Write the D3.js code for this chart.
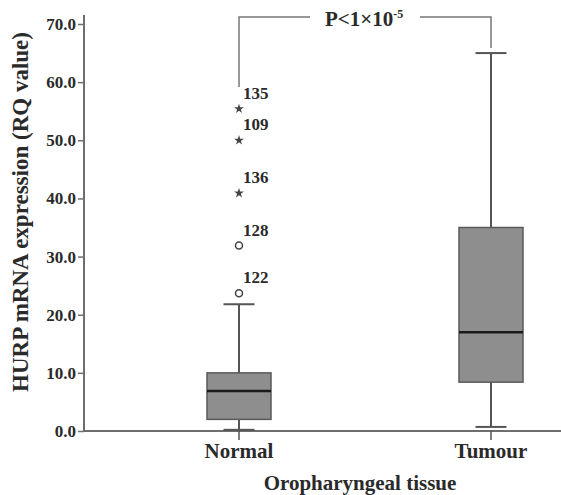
<!DOCTYPE html>
<html lang="en">
<head>
<meta charset="UTF-8">
<title>HURP expression box plot</title>
<style>
  body { margin: 0; background: #fff; }
  text { font-family: "Liberation Serif", "Times New Roman", serif; font-weight: bold; fill: #2a2a2a; }
</style>
</head>
<body>
<div id="chart"></div>
<script src="https://d3js.org/d3.v7.min.js"></script>
<script>
// box plot statistics
var categories = ["Normal", "Tumour"];
var whiskerLow = [0.2, 0.7];
var q1 = [2.0, 8.4];
var median = [6.9, 17.0];
var q3 = [10.0, 35.0];
var whiskerHigh = [21.8, 65.0];

// outliers in the Normal group (circle = outlier, star = extreme)
var outlierIds = ["122", "128", "136", "109", "135"];
var outlierValues = [23.7, 31.9, 40.9, 50.0, 55.4];
var outlierKinds = ["circle", "circle", "star", "star", "star"];

var yTicks = [0, 10, 20, 30, 40, 50, 60, 70];
var pLabel = "P<1×10";
var pExp = "-5";

var width = 561, height = 495;
var svg = d3.select("#chart").append("svg")
    .attr("width", width)
    .attr("height", height);

var y = d3.scaleLinear().domain([0, 70]).range([431, 24]);
var x = d3.scalePoint().domain(categories).range([239, 491]);
var axisX = 84;
var boxW = 64, capW = 31;

// y axis
var yAxis = svg.append("g")
    .attr("transform", "translate(" + axisX + ",0)")
    .call(d3.axisLeft(y).tickValues(yTicks).tickFormat(d3.format(".1f")).tickSize(6).tickPadding(2));
yAxis.select(".domain").remove();
yAxis.selectAll(".tick line").attr("stroke", "#6e6e6e").attr("stroke-width", 1.5);
yAxis.selectAll(".tick text")
    .style("font-family", "Liberation Serif, serif")
    .style("font-weight", "bold")
    .style("font-size", "17px")
    .attr("fill", "#2a2a2a");

svg.append("line")
    .attr("x1", axisX).attr("x2", axisX)
    .attr("y1", 15).attr("y2", y(0))
    .attr("stroke", "#6e6e6e").attr("stroke-width", 2);

// x axis
svg.append("line")
    .attr("x1", axisX).attr("x2", width)
    .attr("y1", y(0)).attr("y2", y(0))
    .attr("stroke", "#6e6e6e").attr("stroke-width", 2);

svg.selectAll(".xtick")
    .data(categories)
    .enter().append("line")
    .attr("x1", function(d) { return x(d); })
    .attr("x2", function(d) { return x(d); })
    .attr("y1", y(0)).attr("y2", y(0) + 9)
    .attr("stroke", "#555").attr("stroke-width", 1.5);

svg.selectAll(".xlabel")
    .data(categories)
    .enter().append("text")
    .attr("x", function(d) { return x(d); })
    .attr("y", 458)
    .attr("text-anchor", "middle")
    .style("font-size", "21px")
    .text(function(d) { return d; });

// axis titles
svg.append("text")
    .attr("x", 360).attr("y", 490)
    .attr("text-anchor", "middle")
    .style("font-size", "21px")
    .text("Oropharyngeal tissue");

svg.append("text")
    .attr("transform", "translate(28,212) rotate(-90)")
    .attr("text-anchor", "middle")
    .style("font-size", "23px")
    .text("HURP mRNA expression (RQ value)");

// boxes
var groups = svg.selectAll(".box")
    .data(categories)
    .enter().append("g");

groups.append("line")
    .attr("x1", function(d) { return x(d); })
    .attr("x2", function(d) { return x(d); })
    .attr("y1", function(d, i) { return y(whiskerLow[i]); })
    .attr("y2", function(d, i) { return y(whiskerHigh[i]); })
    .attr("stroke", "#555").attr("stroke-width", 2);

groups.selectAll(".cap")
    .data(function(d, i) { return [{c: d, v: whiskerLow[i]}, {c: d, v: whiskerHigh[i]}]; })
    .enter().append("line")
    .attr("x1", function(d) { return x(d.c) - capW / 2; })
    .attr("x2", function(d) { return x(d.c) + capW / 2; })
    .attr("y1", function(d) { return y(d.v); })
    .attr("y2", function(d) { return y(d.v); })
    .attr("stroke", "#555").attr("stroke-width", 2);

groups.append("rect")
    .attr("x", function(d) { return x(d) - boxW / 2; })
    .attr("y", function(d, i) { return y(q3[i]); })
    .attr("width", boxW)
    .attr("height", function(d, i) { return y(q1[i]) - y(q3[i]); })
    .attr("fill", "#8e8e8e")
    .attr("stroke", "#5a5a5a").attr("stroke-width", 1.5);

groups.append("line")
    .attr("x1", function(d) { return x(d) - boxW / 2; })
    .attr("x2", function(d) { return x(d) + boxW / 2; })
    .attr("y1", function(d, i) { return y(median[i]); })
    .attr("y2", function(d, i) { return y(median[i]); })
    .attr("stroke", "#1a1a1a").attr("stroke-width", 2.5);

// outliers (Normal group)
var ox = x("Normal");
outlierValues.forEach(function(v, i) {
    if (outlierKinds[i] === "circle") {
        svg.append("circle")
            .attr("cx", ox).attr("cy", y(v)).attr("r", 3.5)
            .attr("fill", "#fff").attr("stroke", "#444").attr("stroke-width", 1.5);
    } else {
        svg.append("path")
            .attr("d", d3.symbol().type(d3.symbolStar).size(30)())
            .attr("transform", "translate(" + ox + "," + y(v) + ")")
            .attr("fill", "#444");
    }
    svg.append("text")
        .attr("x", ox + 4)
        .attr("y", y(v) - 10)
        .style("font-size", "17px")
        .text(outlierIds[i]);
});

// significance bracket
var by = 17;
var bracket = svg.append("g").attr("stroke", "#777").attr("stroke-width", 1.5).attr("fill", "none");
bracket.append("path")
    .attr("d", "M" + x("Normal") + "," + 87 + "V" + by + "H" + 310);
bracket.append("path")
    .attr("d", "M" + 420 + "," + by + "H" + x("Tumour") + "V" + 48);

var pt = svg.append("text")
    .attr("x", 325).attr("y", 26)
    .style("font-size", "21px");
pt.append("tspan").text(pLabel);
pt.append("tspan").attr("dy", -8).style("font-size", "12px").text(pExp);
</script>
</body>
</html>
